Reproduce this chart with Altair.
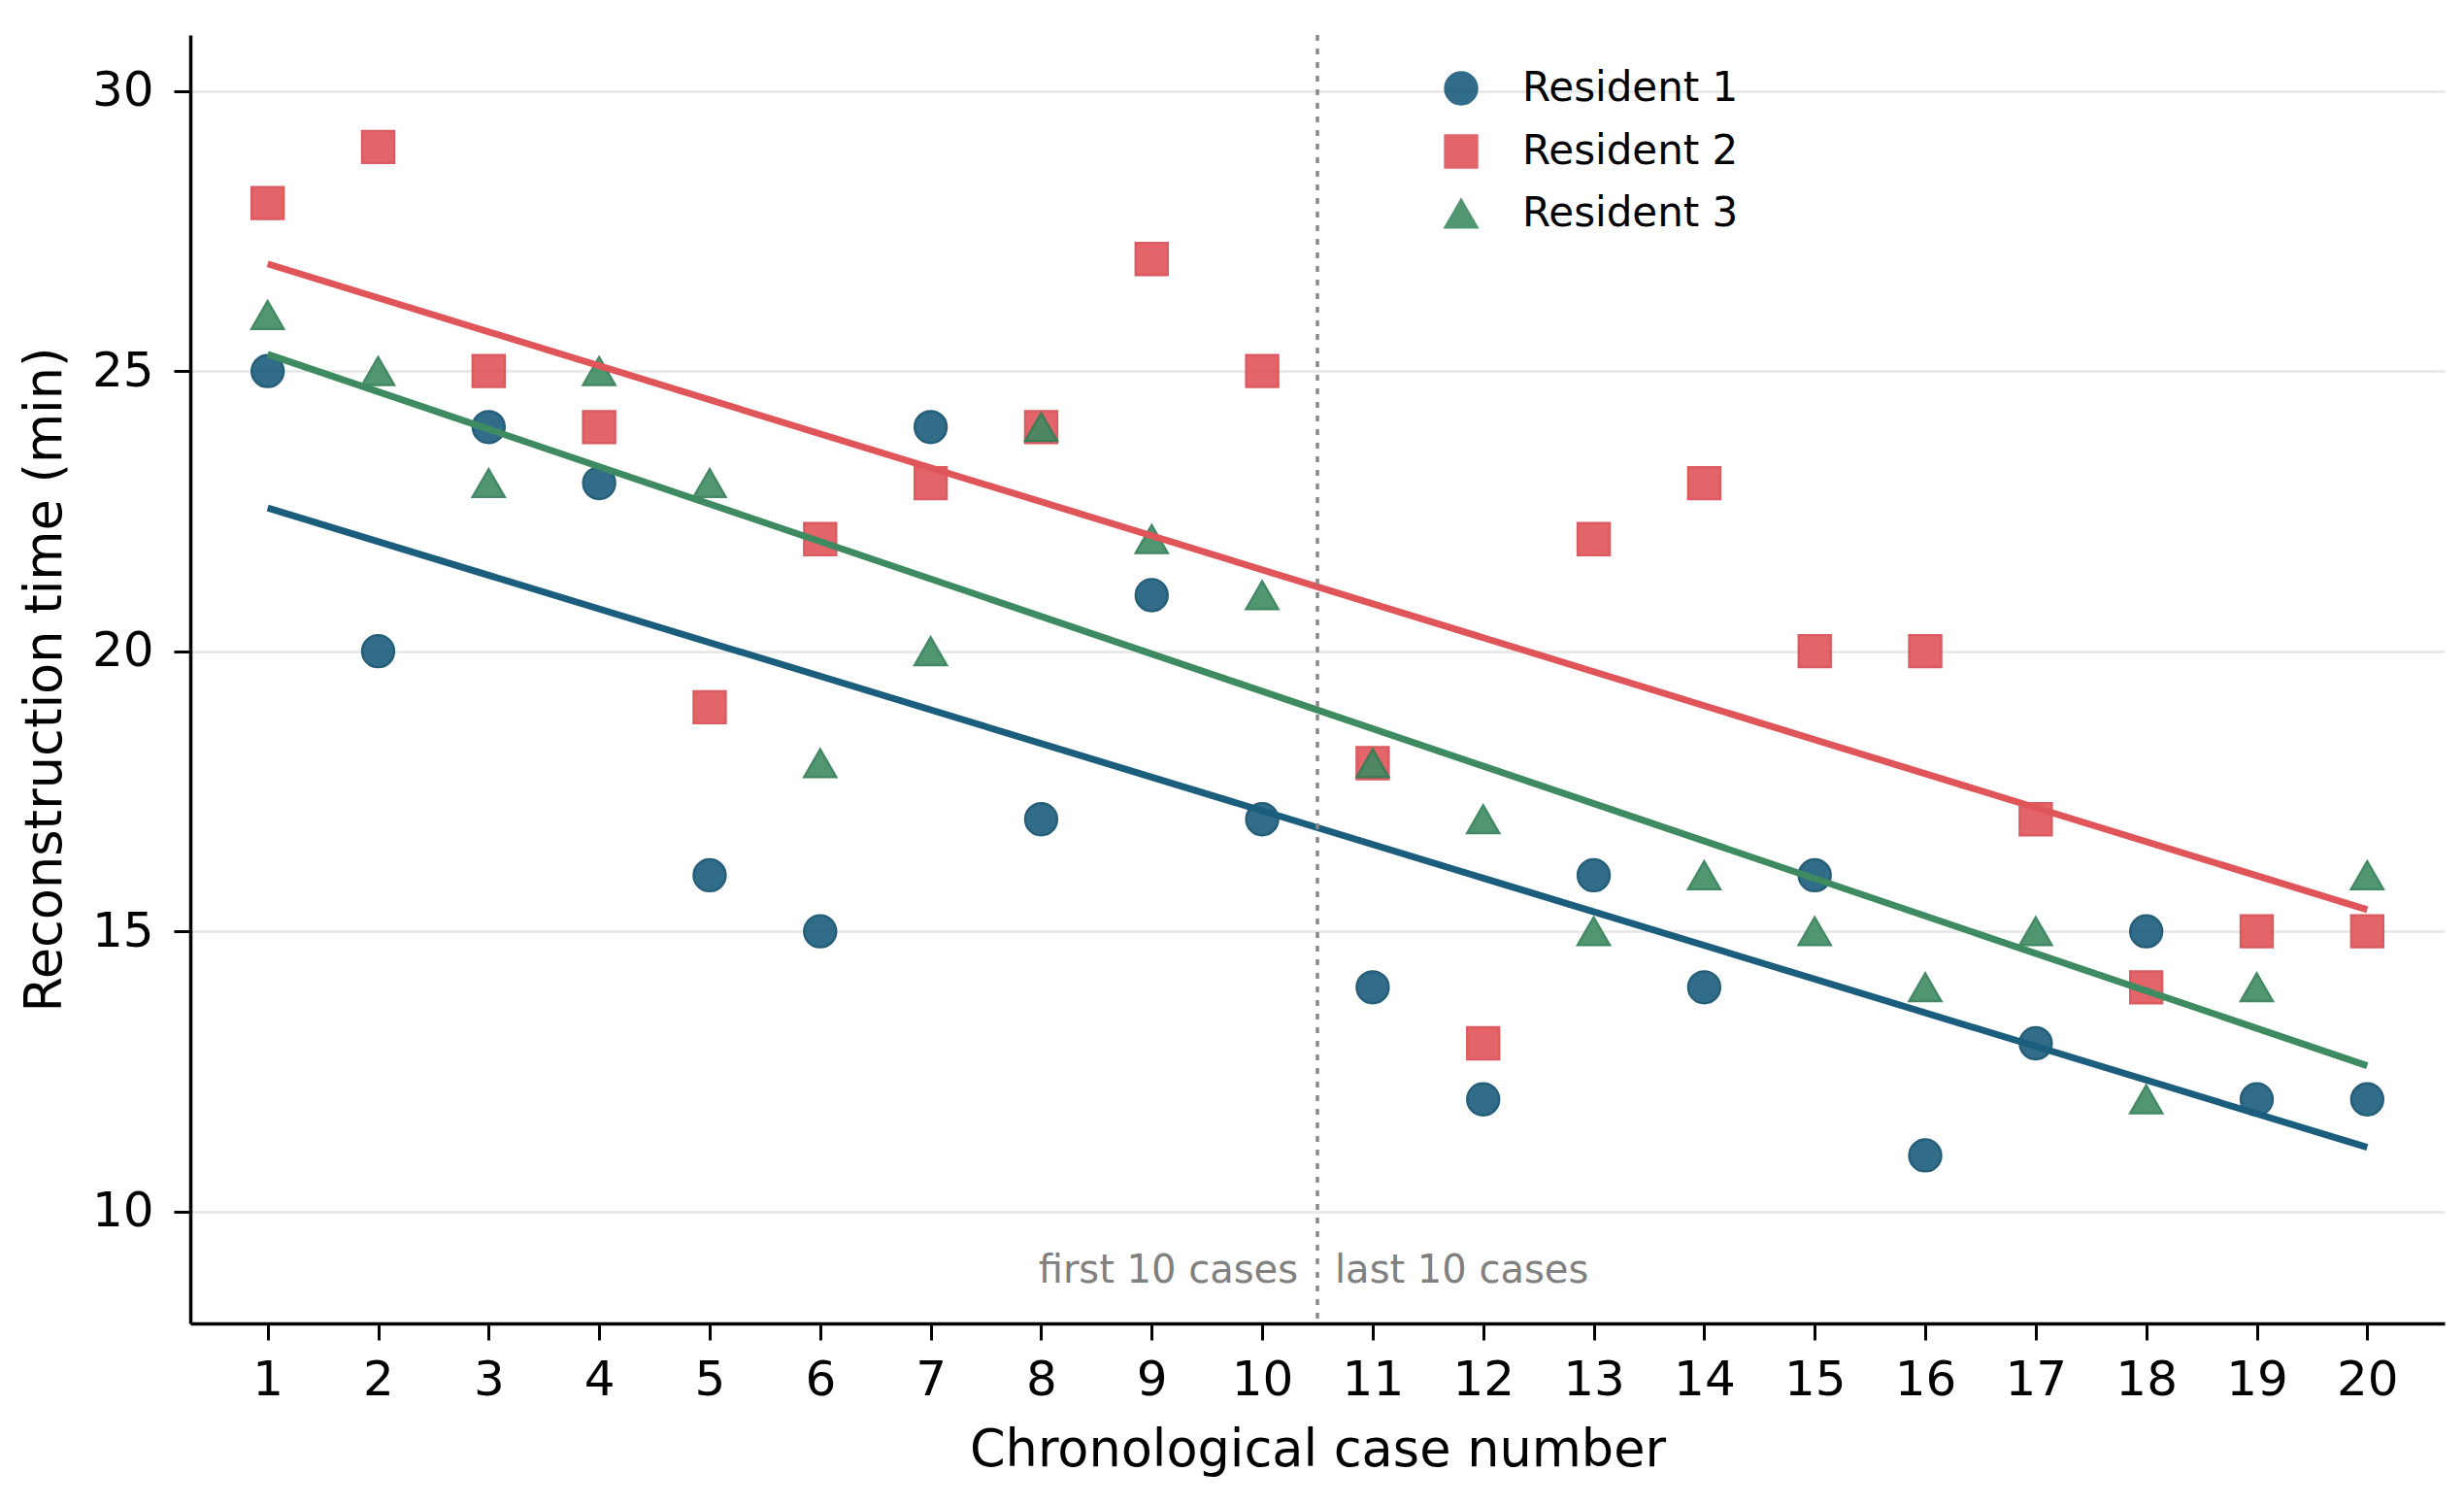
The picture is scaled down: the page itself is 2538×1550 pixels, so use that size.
import altair as alt
import pandas as pd

# ---- data ----
cases = list(range(1, 21))
series_names = ["Resident 1", "Resident 2", "Resident 3"]
resident1 = [25, 20, 24, 23, 16, 15, 24, 17, 21, 17, 14, 12, 16, 14, 16, 11, 13, 15, 12, 12]
resident2 = [28, 29, 25, 24, 19, 22, 23, 24, 27, 25, 18, 13, 22, 23, 20, 20, 17, 14, 15, 15]
resident3 = [26, 25, 23, 25, 23, 18, 20, 24, 22, 21, 18, 17, 15, 16, 15, 14, 15, 12, 14, 16]
split_at = 10.5
split_labels = ["first 10 cases", "last 10 cases"]
y_ticks = [10, 15, 20, 25, 30]

series_colors = ["#1b5d7c", "#e0555a", "#3e8b62"]
edge_colors = ["#0f4e6c", "#d84a50", "#2f7d55"]
shapes = ["circle", "square", "triangle-up"]

rows = []
for name, vals in zip(series_names, [resident1, resident2, resident3]):
    for c, v in zip(cases, vals):
        rows.append({"case": c, "time": v, "series": name})
df = pd.DataFrame(rows)

ann = pd.DataFrame({
    "x": [split_at, split_at],
    "y": [8.72, 8.72],
    "label": split_labels,
    "side": ["left", "right"],
})

FONT = "DejaVu Sans"

x_enc = alt.X("case:Q", title="Chronological case number",
              scale=alt.Scale(domain=[0.3, 20.7], nice=False, zero=False),
              axis=alt.Axis(values=cases, format="d", grid=False))
y_enc = alt.Y("time:Q", title="Reconstruction time (min)",
              scale=alt.Scale(domain=[8, 31], nice=False, zero=False),
              axis=alt.Axis(values=y_ticks, format="d", grid=True))

color_scale = alt.Scale(domain=series_names, range=series_colors)

points = alt.Chart(df).mark_point(filled=True, opacity=0.9, strokeWidth=2.5).encode(
    x=x_enc,
    y=y_enc,
    color=alt.Color("series:N", scale=color_scale, legend=alt.Legend(title=None)),
    shape=alt.Shape("series:N", scale=alt.Scale(domain=series_names, range=shapes),
                    legend=alt.Legend(title=None)),
    stroke=alt.Stroke("series:N", scale=alt.Scale(domain=series_names, range=edge_colors),
                      legend=None),
    size=alt.value(1080),
)

lines = alt.Chart(df).transform_regression(
    "case", "time", groupby=["series"]
).mark_line(strokeWidth=7, strokeCap="butt").encode(
    x="case:Q",
    y="time:Q",
    color=alt.Color("series:N", scale=color_scale, legend=None),
)

rule = alt.Chart(pd.DataFrame({"x": [split_at]})).mark_rule(
    color="#888888", strokeWidth=3.5, strokeDash=[6, 8]
).encode(x="x:Q")

text_left = alt.Chart(ann[ann.side == "left"]).mark_text(
    align="right", baseline="alphabetic", dx=-20, fontSize=40, font=FONT, color="#808080"
).encode(x="x:Q", y="y:Q", text="label:N")

text_right = alt.Chart(ann[ann.side == "right"]).mark_text(
    align="left", baseline="alphabetic", dx=18, fontSize=40, font=FONT, color="#808080"
).encode(x="x:Q", y="y:Q", text="label:N")

chart = alt.layer(points, lines, rule, text_left, text_right).properties(
    width=2322, height=1327,
    autosize=alt.AutoSizeParams(type="none"),
    padding={"left": 188, "top": 28, "right": 12, "bottom": 170},
).configure_view(stroke=None).configure_axis(
    labelFont=FONT, titleFont=FONT,
    labelFontSize=50, titleFontSize=52.5,
    labelColor="black", titleColor="black",
    titleFontWeight="normal",
    domainColor="black", domainWidth=3.5,
    tickColor="black", tickWidth=3, tickSize=17,
    gridColor="#e6e6e6", gridWidth=2.5,
).configure_axisX(
    labelPadding=16, titlePadding=22,
).configure_axisY(
    labelPadding=21, titlePadding=21,
).configure_legend(
    orient="none", legendX=1288, legendY=34, padding=0,
    labelFont=FONT, labelFontSize=42, labelColor="black", labelLimit=600,
    symbolSize=1080, symbolStrokeWidth=2.5, labelOffset=42, rowPadding=21,
    symbolOpacity=0.9,
)

chart.save("out.html", embed_options={"renderer": "svg", "actions": False})
